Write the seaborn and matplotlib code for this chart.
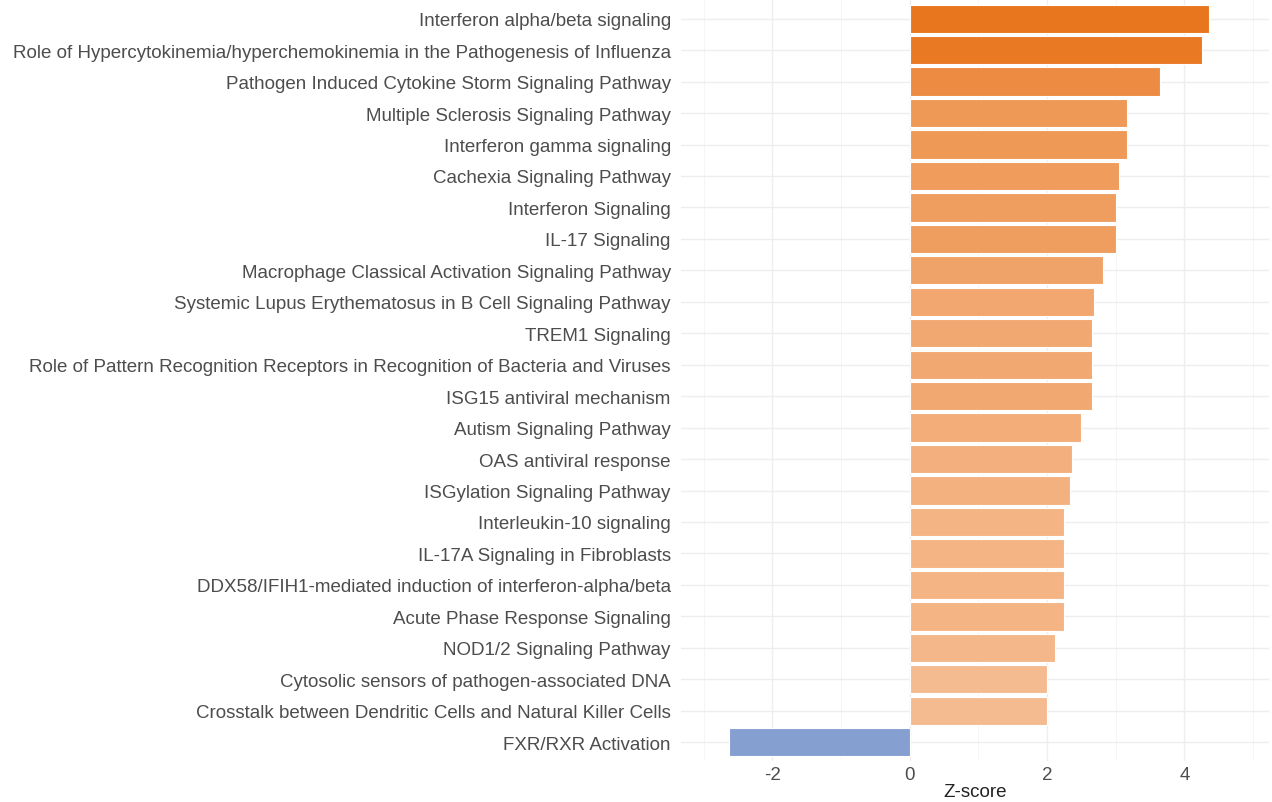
import numpy as np
import pandas as pd
import matplotlib
matplotlib.use('Agg')
import matplotlib.pyplot as plt
import seaborn as sns
from matplotlib.ticker import MultipleLocator

# Dados
pathways = [
    'Interferon alpha/beta signaling',
    'Role of Hypercytokinemia/hyperchemokinemia in the Pathogenesis of Influenza',
    'Pathogen Induced Cytokine Storm Signaling Pathway',
    'Multiple Sclerosis Signaling Pathway',
    'Interferon gamma signaling',
    'Cachexia Signaling Pathway',
    'Interferon Signaling',
    'IL-17 Signaling',
    'Macrophage Classical Activation Signaling Pathway',
    'Systemic Lupus Erythematosus in B Cell Signaling Pathway',
    'TREM1 Signaling',
    'Role of Pattern Recognition Receptors in Recognition of Bacteria and Viruses',
    'ISG15 antiviral mechanism',
    'Autism Signaling Pathway',
    'OAS antiviral response',
    'ISGylation Signaling Pathway',
    'Interleukin-10 signaling',
    'IL-17A Signaling in Fibroblasts',
    'DDX58/IFIH1-mediated induction of interferon-alpha/beta',
    'Acute Phase Response Signaling',
    'NOD1/2 Signaling Pathway',
    'Cytosolic sensors of pathogen-associated DNA',
    'Crosstalk between Dendritic Cells and Natural Killer Cells',
    'FXR/RXR Activation',
]
zscores = [4.36, 4.25, 3.64, 3.17, 3.17, 3.05, 3.0, 3.0, 2.82, 2.68, 2.65, 2.65,
           2.65, 2.49, 2.37, 2.33, 2.24, 2.24, 2.24, 2.24, 2.12, 2.0, 2.0, -2.63]

df = pd.DataFrame({'pathway': pathways, 'z': zscores})

# Cores: gradiente laranja para positivos, azul para negativos
light = np.array([245, 187, 144]) / 255
dark = np.array([232, 118, 30]) / 255
zpos = df.loc[df['z'] > 0, 'z']
zmin, zmax = zpos.min(), zpos.max()
colors = []
for z in df['z']:
    if z < 0:
        colors.append('#869FD1')
    else:
        t = (z - zmin) / (zmax - zmin)
        colors.append(tuple(light + (dark - light) * t))

sns.set_theme(style='white')
plt.rcParams['font.family'] = ['Liberation Sans', 'DejaVu Sans']

fig = plt.figure(figsize=(12.72, 8.03), dpi=100)
ax = fig.add_axes([0.535, 0.051, 0.463, 0.948])

sns.barplot(data=df, x='z', y='pathway', hue='pathway', palette=colors,
            legend=False, width=0.9, edgecolor='white', linewidth=0.8,
            saturation=1, ax=ax, zorder=3)

ax.set_xlim(-3.34, 5.24)
ax.set_ylim(len(df) - 0.4, -0.6)
ax.xaxis.set_major_locator(MultipleLocator(2))
ax.xaxis.set_minor_locator(MultipleLocator(1))
ax.grid(True, which='major', color='#EEEEEE', linewidth=1.0, zorder=0)
ax.grid(True, which='minor', axis='x', color='#F4F4F4', linewidth=0.6, zorder=0)
ax.set_axisbelow(True)
for s in ax.spines.values():
    s.set_visible(False)

ax.tick_params(axis='both', length=0, labelsize=13.5, labelcolor='#4D4D4D')
ax.tick_params(axis='y', pad=7)
ax.tick_params(axis='x', pad=3.5)
ax.set_xticks([-2, 0, 2, 4])
ax.set_xticklabels(['-2', '0', '2', '4'])
ax.set_ylabel('')
ax.set_xlabel('Z-score', fontsize=13.5, color='#222222', labelpad=0)

plt.savefig('out.png', dpi=100)
plt.close()
